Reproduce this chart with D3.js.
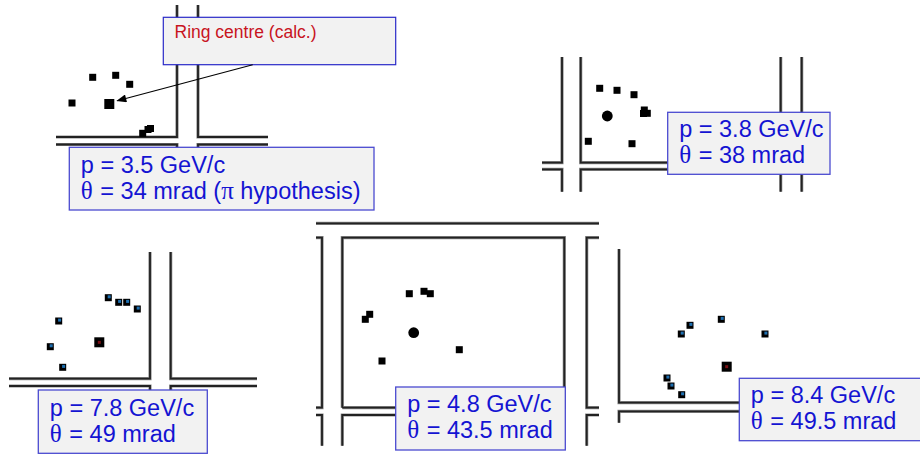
<!DOCTYPE html>
<html>
<head>
<meta charset="utf-8">
<script src="https://cdn.jsdelivr.net/npm/d3@7"></script>
<style>
body { margin: 0; background: #fff; }
svg { display: block; }
text { font-family: "Liberation Sans", Arial, sans-serif; }
</style>
</head>
<body>
<div id="chart"></div>
<script>
var hits35 = [[36.7,72.3],[59.7,70.3],[73.7,79.3],[16,98],[94.5,123.5],[92,124.5],[86.7,128.3]];
var hits38 = [[57.7,31.3],[75,33.3],[92,37.7],[102.3,53],[105.3,56.3],[101.5,56.5],[46.3,84.3],[90,86.7]];
var hits78 = [[99.3,45.7],[109.7,50.3],[117.7,50.3],[128.3,57],[49.7,69],[41.3,94.7],[53.7,115.3]];
var hits48 = [[93.3,70.7],[108,68.3],[114.3,70.7],[53.7,91.3],[49.3,96.3],[143.3,126.7],[66,138]];
var hits84 = [[71,76.3],[102.3,70.3],[146,85],[62.3,85],[48,129],[52,137],[62.7,145.7]];

// calculated ring centres
var centres = [[53.3,99],[65.3,59],[90.3,90.3],[97.7,109.7],[107.7,117.7]];

var momentum = ["p = 3.5 GeV/c", "p = 3.8 GeV/c", "p = 7.8 GeV/c", "p = 4.8 GeV/c", "p = 8.4 GeV/c"];
var angle = [" = 34 mrad (", " = 38 mrad", " = 49 mrad", " = 43.5 mrad", " = 49.5 mrad"];

// edges of the detector modules in each panel
var edges35 = [[[0,132],[121,132],[121,0]], [[142,0],[142,132],[212,132]],
  [[0,139.5],[121,139.5],[121,145]], [[142,145],[142,139.5],[212,139.5]]];
var edges38 = [[[0,105.7],[20,105.7],[20,0]], [[38.7,0],[38.7,105.7],[238.7,105.7]],
  [[0,112.3],[20,112.3],[20,134.7]], [[38.7,134.7],[38.7,112.3],[238.7,112.3]],
  [[238.7,0],[238.7,134.7]], [[259.7,0],[259.7,134.7]]];
var edges78 = [[[0,126.7],[141,126.7],[141,0]], [[161.7,0],[161.7,126.7],[248,126.7]],
  [[0,134],[141,134],[141,140]], [[161.7,140],[161.7,134],[248,134]]];
var edges48 = [[[0,0.3],[283,0.3]],
  [[0,14.7],[6,14.7],[6,184.7],[0,184.7]], [[0,192],[6,192],[6,222.7]],
  [[26.3,184.7],[26.3,14.7],[248.3,14.7],[248.3,184.7],[26.3,184.7]],
  [[26.3,222.7],[26.3,192],[248.3,192]],
  [[283,14.7],[270.7,14.7],[270.7,184.7],[283,184.7]], [[283,192],[270.7,192],[270.7,222.7]]];
var edges84 = [[[0,0],[0,153.7],[121,153.7]], [[0,173.7],[0,162.3],[121,162.3]]];

var width = 920, height = 454;

// where each panel sits, its hit colours and its label box
var panels = [
  {hits: hits35, edges: edges35, x0: 56, y0: 5, w: 212, h: 146, core: null, centre: "square", coreC: null,
   box: [69.3,147.3,304.7,62.7], base: [172.7,199]},
  {hits: hits38, edges: edges38, x0: 542, y0: 57, w: 260, h: 135, core: null, centre: "circle", coreC: null,
   box: [667.7,112.3,162.3,62], base: [137.3,162.7]},
  {hits: hits78, edges: edges78, x0: 9, y0: 252, w: 248, h: 140, core: "#1f6fb0", centre: "square", coreC: "#7a0c14",
   box: [38.3,390,169,63.3], base: [416,441.7]},
  {hits: hits48, edges: edges48, x0: 316, y0: 223, w: 283, h: 223, core: null, centre: "circle", coreC: null,
   box: [395.7,387,169.6,63], base: [412.3,437.7]},
  {hits: hits84, edges: edges84, x0: 619, y0: 249, w: 121, h: 174, core: "#1f6fb0", centre: "square", coreC: "#7a0c14",
   box: [739.3,378.3,190,62.4], base: [403.3,428.7]}
];

var svg = d3.select("#chart")
  .append("svg")
    .attr("width", width)
    .attr("height", height);

var defs = svg.append("defs");
defs.append("filter")
    .attr("id", "soft")
  .append("feGaussianBlur")
    .attr("stdDeviation", 0.55);
defs.append("marker")
    .attr("id", "head")
    .attr("viewBox", "0 0 10 8")
    .attr("refX", 9)
    .attr("refY", 4)
    .attr("markerUnits", "userSpaceOnUse")
    .attr("markerWidth", 11)
    .attr("markerHeight", 8)
    .attr("orient", "auto")
  .append("path")
    .attr("d", "M0,0L10,4L0,8Z")
    .attr("fill", "#000");

panels.forEach(function(p, i) {
  var x = d3.scaleLinear().domain([0, p.w]).range([p.x0, p.x0 + p.w]);
  var y = d3.scaleLinear().domain([0, p.h]).range([p.y0, p.y0 + p.h]);
  var line = d3.line().x(function(d) { return x(d[0]); }).y(function(d) { return y(d[1]); });
  p.x = x;
  p.y = y;

  var g = svg.append("g").attr("filter", "url(#soft)");

  // module edges: grey halo under a dark core
  [["#8c8c8c", 3.2], ["#222", 1.8]].forEach(function(s) {
    g.selectAll(null)
      .data(p.edges)
      .enter()
      .append("path")
        .attr("d", line)
        .attr("fill", "none")
        .attr("stroke", s[0])
        .attr("stroke-width", s[1]);
  });

  g.selectAll(null)
    .data(p.hits)
    .enter()
    .append("rect")
      .attr("x", function(d) { return x(d[0]) - 3.5; })
      .attr("y", function(d) { return y(d[1]) - 3.5; })
      .attr("width", 7)
      .attr("height", 7)
      .attr("fill", "#000");

  if (p.core) {
    g.selectAll(null)
      .data(p.hits)
      .enter()
      .append("rect")
        .attr("x", function(d) { return x(d[0]) - 0.6; })
        .attr("y", function(d) { return y(d[1]) - 2.4; })
        .attr("width", 3)
        .attr("height", 3)
        .attr("fill", p.core);
  }

  var c = centres[i];
  if (p.centre == "circle") {
    g.append("circle")
      .attr("cx", x(c[0]))
      .attr("cy", y(c[1]))
      .attr("r", 5.4)
      .attr("fill", "#000");
  } else {
    g.append("rect")
      .attr("x", x(c[0]) - 5)
      .attr("y", y(c[1]) - 5)
      .attr("width", 10)
      .attr("height", 10)
      .attr("fill", "#000");
    if (p.coreC) {
      g.append("rect")
        .attr("x", x(c[0]) - 1.5)
        .attr("y", y(c[1]) - 1.5)
        .attr("width", 3)
        .attr("height", 3)
        .attr("fill", p.coreC);
    }
  }
});

// label boxes go on top of the module edges
panels.forEach(function(p, i) {
  svg.append("rect")
    .attr("x", p.box[0])
    .attr("y", p.box[1])
    .attr("width", p.box[2])
    .attr("height", p.box[3])
    .attr("fill", "#f2f2f2")
    .attr("stroke", "#4a4ad0")
    .attr("stroke-width", 1.3);

  var tx = p.box[0] + 11.5;
  svg.append("text")
    .attr("x", tx)
    .attr("y", p.base[0])
    .attr("font-size", 23.5)
    .attr("fill", "#1414d2")
    .text(momentum[i]);

  var t = svg.append("text")
    .attr("x", tx)
    .attr("y", p.base[1])
    .attr("font-size", 23.5)
    .attr("fill", "#1414d2");
  t.append("tspan").style("font-family", "'Liberation Serif', serif").style("font-size", "25px").text("\u03b8");
  t.append("tspan").attr("dx", 1).text(angle[i]);
  if (i == 0) {
    t.append("tspan").style("font-family", "'Liberation Serif', serif").style("font-size", "25px").text("\u03c0");
    t.append("tspan").text(" hypothesis)");
  }
});

// ring centre callout on the first panel
var first = panels[0];
svg.append("rect")
  .attr("x", 163.3)
  .attr("y", 17.3)
  .attr("width", 232.4)
  .attr("height", 47.4)
  .attr("fill", "#f2f2f2")
  .attr("stroke", "#2a2ac8")
  .attr("stroke-width", 1.2);
svg.append("text")
  .attr("x", 174.5)
  .attr("y", 37.5)
  .attr("font-size", 17.5)
  .attr("fill", "#c8141e")
  .text("Ring centre (calc.)");
svg.append("line")
  .attr("x1", first.x(196.7))
  .attr("y1", first.y(59.7))
  .attr("x2", first.x(61.3))
  .attr("y2", first.y(95.7))
  .attr("stroke", "#000")
  .attr("stroke-width", 1.1)
  .attr("marker-end", "url(#head)");
</script>
</body>
</html>
